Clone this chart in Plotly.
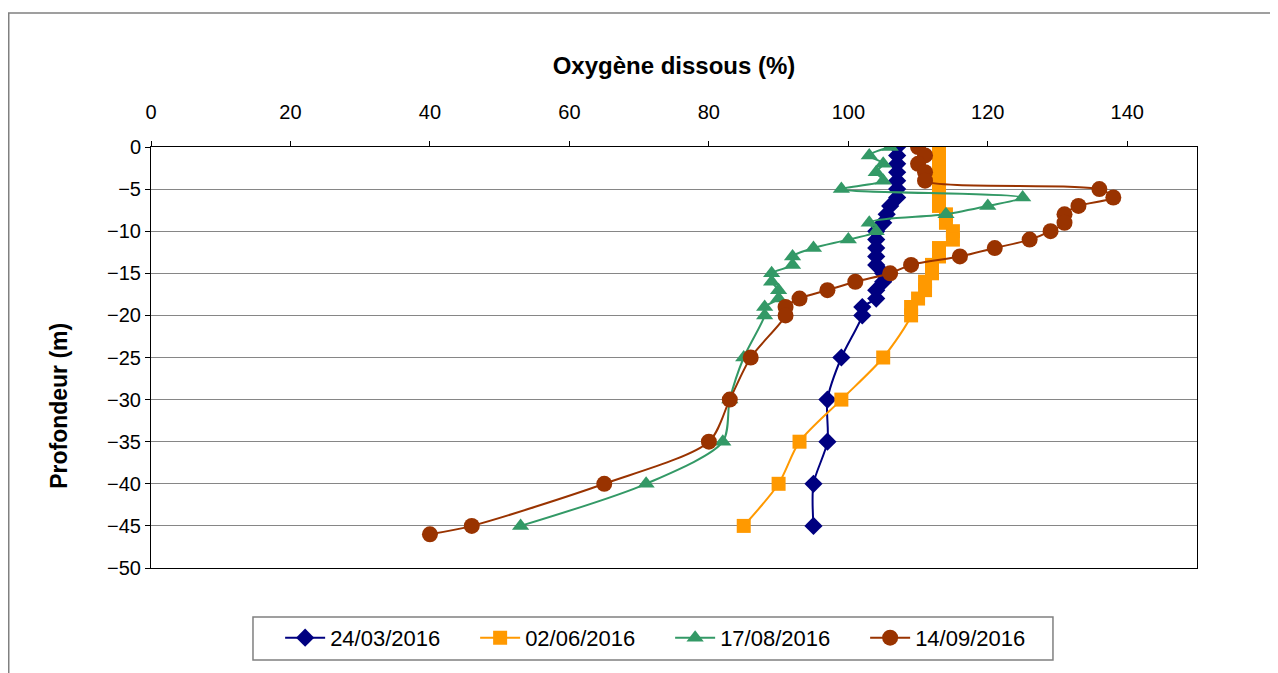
import plotly.graph_objects as go

# Profondeur (m)
depth_24_03 = [0, -1, -2, -3, -4, -5, -6, -7, -8, -9, -10, -11, -12, -13, -14, -15, -16, -17, -18, -19, -20,
               -25, -30, -35, -40, -45]
oxy_24_03 = [107, 107, 107, 107, 107, 107, 107, 106, 105.5, 105, 104, 104, 104, 104, 104, 105, 105, 104, 104, 102, 102,
             99, 97, 97, 95, 95]

depth_02_06 = [0, -1, -2, -3, -4, -5, -6, -7, -8, -9, -10, -11, -12, -13, -14, -15, -16, -17, -18, -19, -20,
               -25, -30, -35, -40, -45]
oxy_02_06 = [113, 113, 113, 113, 113, 113, 113, 113, 114, 114, 115, 115, 113, 113, 112, 112, 111, 111, 110, 109, 109,
             105, 99, 93, 90, 85]

depth_17_08 = [0, -1, -2, -3, -4, -5, -6, -7, -8, -9, -10, -11, -12, -13, -14, -15, -16, -17, -18, -19, -20,
               -25, -30, -35, -40, -45]
oxy_17_08 = [106, 103, 105, 104, 105, 99, 125, 120, 114, 103, 104, 100, 95, 92, 92, 89, 89, 90, 90, 88, 88,
             85, 83, 82, 71, 53]

depth_14_09 = [0, -1, -2, -3, -4, -5, -6, -7, -8, -9, -10, -11, -12, -13, -14, -15, -16, -17, -18, -19, -20,
               -25, -30, -35, -40, -45, -46]
oxy_14_09 = [110, 111, 110, 111, 111, 136, 138, 133, 131, 131, 129, 126, 121, 116, 109, 106, 101, 97, 93, 91, 91,
             86, 83, 80, 65, 46, 40]

x_ticks = [0, 20, 40, 60, 80, 100, 120, 140]

series = [
    ("24/03/2016", oxy_24_03, depth_24_03, "#000080", "diamond", 14),
    ("02/06/2016", oxy_02_06, depth_02_06, "#FF9900", "square", 14),
    ("17/08/2016", oxy_17_08, depth_17_08, "#339966", "triangle-up", 15),
    ("14/09/2016", oxy_14_09, depth_14_09, "#993300", "circle", 16),
]

fig = go.Figure()
for name, x, y, color, symbol, size in series:
    fig.add_trace(go.Scatter(
        x=x, y=y, name=name, mode="lines+markers",
        line=dict(color=color, width=2, shape="spline", smoothing=0.8),
        marker=dict(color=color, symbol=symbol, size=size, line=dict(width=0)),
    ))

font_family = "Liberation Sans, Arial, sans-serif"

# page body has an 8px margin, so the figure is made 8px smaller and shifted
fig.update_layout(
    width=1270, height=665,
    margin=dict(l=143, r=81, t=139, b=105),
    paper_bgcolor="white",
    plot_bgcolor="white",
    font=dict(family=font_family, size=20, color="black"),
    title=dict(text="<b>Oxygène dissous (%)</b>", x=666 / 1270, xanchor="center",
               y=1 - 58 / 665, yanchor="middle", font=dict(size=24, family=font_family)),
    showlegend=True,
    legend=dict(orientation="h", x=0.4963, xanchor="center", y=-0.116, yanchor="top",
                borderwidth=0, bgcolor="rgba(0,0,0,0)", font=dict(size=22, family=font_family),
                entrywidth=140, itemwidth=40),
    shapes=[
        # outer chart frame
        dict(type="rect", xref="paper", yref="paper", x0=-0.136, x1=1.3, y0=-0.6, y1=1.318,
             line=dict(color="#808080", width=1.5), layer="below"),
        # legend frame
        dict(type="rect", xref="paper", yref="paper", x0=0.0975, x1=0.8623, y0=-0.2185, y1=-0.1164,
             line=dict(color="#808080", width=1.5), layer="below"),
    ],
    annotations=[dict(text="<b>Profondeur (m)</b>", xref="paper", yref="paper", x=-0.088, y=0.385,
                      xanchor="center", yanchor="middle",
                      textangle=-90, showarrow=False, font=dict(size=23, family=font_family))],
)

fig.update_xaxes(
    side="top", range=[0, 150], tickvals=x_ticks, showgrid=False, zeroline=False,
    showline=True, linecolor="black", linewidth=1, mirror=True,
    ticks="outside", ticklen=5, tickcolor="black", ticklabelstandoff=14,
)
fig.update_yaxes(
    range=[-50, 0], dtick=5, showgrid=True, gridcolor="#868686", gridwidth=1, zeroline=False,
    showline=True, linecolor="black", linewidth=1, mirror=True,
    ticks="outside", ticklen=5, tickcolor="black",
)

fig.write_html("out.html")
